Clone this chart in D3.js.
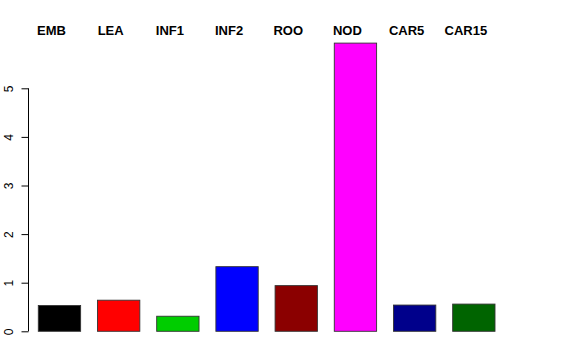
<!DOCTYPE html>
<html>
<head>
<meta charset="utf-8">
<script src="https://cdn.jsdelivr.net/npm/d3@7"></script>
<style>
  body { margin: 0; background: #fff; }
  svg { display: block; }
</style>
</head>
<body>
<svg id="chart" width="576" height="360"></svg>
<script>
// tissue names, values and fill colours
var tissues = ["EMB", "LEA", "INF1", "INF2", "ROO", "NOD", "CAR5", "CAR15"];
var values = [0.53, 0.64, 0.31, 1.33, 0.94, 5.93, 0.54, 0.56];
var colors = ["#000000", "#ff0000", "#00cd00", "#0000ff", "#8b0000", "#ff00ff", "#00008b", "#006400"];
var yTicks = [0, 1, 2, 3, 4, 5];

var svg = d3.select("#chart");

var x = d3.scaleBand()
    .domain(tissues)
    .range([38.3, 495])
    .paddingInner(0.285)
    .paddingOuter(0);

var y = d3.scaleLinear()
    .domain([0, 5])
    .range([331.3, 88.3]);

// bars
svg.selectAll("rect.bar")
   .data(values)
   .join("rect")
   .attr("class", "bar")
   .attr("x", function(d, i) { return x(tissues[i]); })
   .attr("y", function(d) { return y(d); })
   .attr("width", x.bandwidth())
   .attr("height", function(d) { return y(0) - y(d); })
   .attr("fill", function(d, i) { return colors[i]; })
   .attr("stroke", "#333")
   .attr("stroke-width", 0.9);

// y axis, R style: rotated labels
var yAxis = svg.append("g")
   .attr("transform", "translate(28.5,0)")
   .call(d3.axisLeft(y).tickValues(yTicks).tickSize(7).tickFormat(d3.format("d")));

yAxis.select(".domain")
   .attr("d", "M0," + y(0) + "V" + y(5))
   .attr("stroke", "#000");
yAxis.selectAll(".tick line").attr("stroke", "#000");
yAxis.selectAll(".tick text")
   .attr("x", null)
   .attr("transform", "translate(-16,0) rotate(-90)")
   .attr("text-anchor", "middle")
   .attr("dy", "0")
   .style("font-family", "Liberation Sans, Arial, sans-serif")
   .style("font-size", "12px")
   .attr("fill", "#000");

// labels across the top
svg.selectAll("text.lab")
   .data(tissues)
   .join("text")
   .attr("class", "lab")
   .attr("x", function(d) { return x(d) + x.bandwidth() / 2 - 8; })
   .attr("y", 35)
   .attr("text-anchor", "middle")
   .style("font-family", "Liberation Sans, Arial, sans-serif")
   .style("font-weight", "bold")
   .style("font-size", "13px")
   .text(function(d) { return d; });
</script>
</body>
</html>
